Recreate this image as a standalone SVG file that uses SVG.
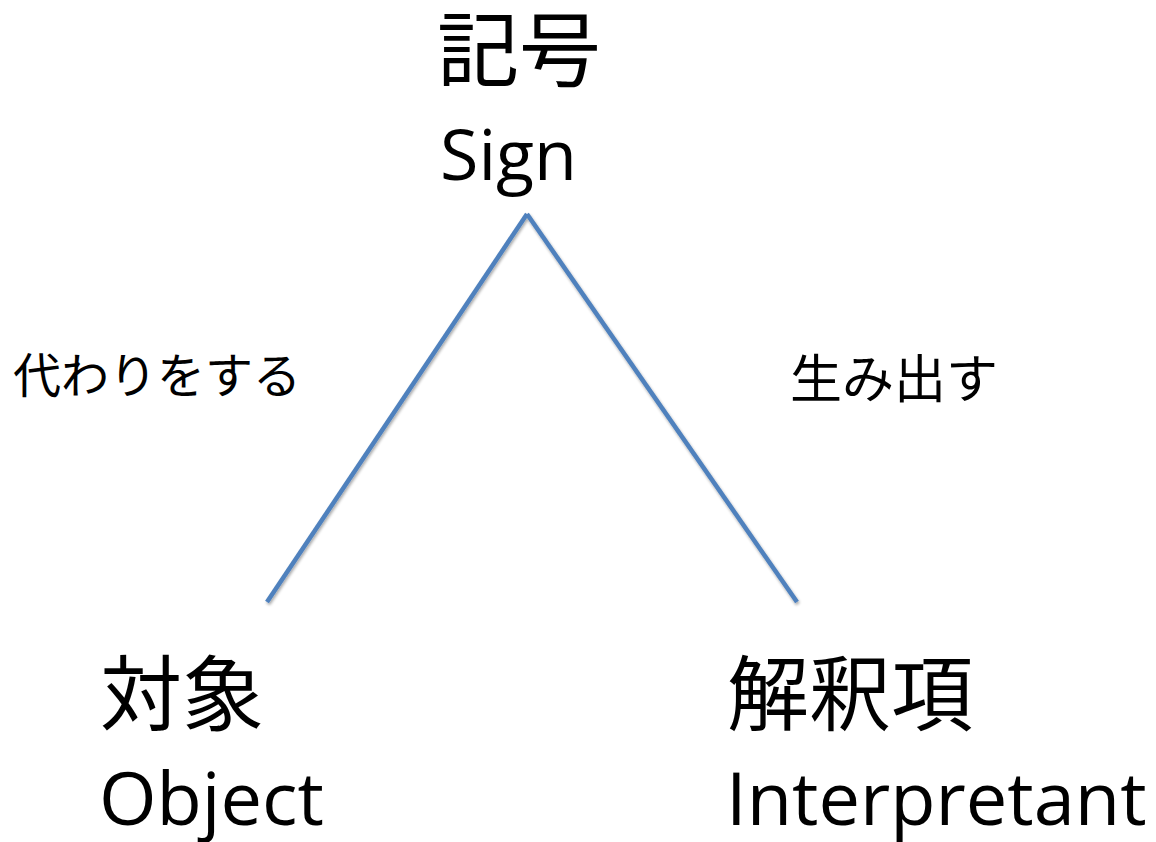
<svg xmlns="http://www.w3.org/2000/svg" width="1156" height="842" viewBox="0 0 1156 842">
<style>
.cjk{font-family:"Noto Sans CJK JP","Noto Sans",sans-serif;fill:#000}
.lat{font-family:"Open Sans","Noto Sans",sans-serif;fill:#000}
.edge{stroke:#4f81bd;stroke-width:4.5;fill:none;stroke-linecap:butt}
</style>
<defs>
<filter id="sh" x="-10%" y="-10%" width="120%" height="120%">
<feGaussianBlur in="SourceAlpha" stdDeviation="1.5"/>
<feOffset dx="1" dy="2" result="b"/>
<feComponentTransfer><feFuncA type="linear" slope="0.35"/></feComponentTransfer>
<feMerge><feMergeNode/><feMergeNode in="SourceGraphic"/></feMerge>
</filter>
</defs>
<rect width="1156" height="842" fill="#fff"/>
<g id="connectors" filter="url(#sh)">
<line class="edge" x1="267" y1="602" x2="527" y2="214"/>
<line class="edge" x1="527" y1="214" x2="797" y2="602"/>
</g>
<g id="sign">
<text class="cjk" x="437" y="80" font-size="82">記号</text>
<text class="lat" x="440" y="180" font-size="70">Sign</text>
</g>
<g id="object">
<text class="cjk" x="100" y="724" font-size="82">対象</text>
<text class="lat" x="99" y="825" font-size="74">Object</text>
</g>
<g id="interpretant">
<text class="cjk" x="727" y="724" font-size="82">解釈項</text>
<text class="lat" x="726" y="825" font-size="74">Interpretant</text>
</g>
<g id="label-left">
<text class="cjk" x="13" y="393" font-size="48">代わりをする</text>
</g>
<g id="label-right">
<text class="cjk" x="790" y="398" font-size="52">生み出す</text>
</g>
</svg>
